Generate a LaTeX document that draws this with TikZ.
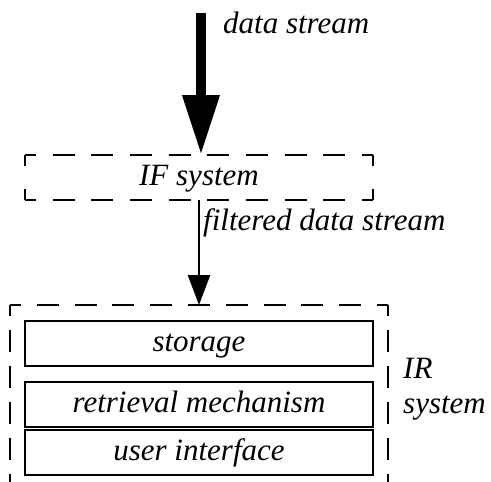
\documentclass[tikz,border=0pt]{standalone}
\usepackage{fontspec}
\setmainfont{Liberation Serif}
\usetikzlibrary{arrows.meta}
\begin{document}
\begin{tikzpicture}[x=1pt,y=-1pt,
  lbl/.style={font=\fontsize{31}{35}\selectfont\itshape, inner sep=0pt},
  frame/.style={lbl, outer sep=0pt, minimum width=348pt, minimum height=45pt, text height=21pt, text depth=6pt},
  boxed/.style={frame, draw, line width=1.8pt},
  dsh/.style={line width=2pt},
  thickarrow/.style={line width=10pt, -{Triangle[length=60pt,width=35pt]}},
  thinarrow/.style={line width=2.5pt, -{Triangle[length=30pt,width=22pt]}},
]
\useasboundingbox (0,0) rectangle (491,482);
\fill[white] (0,0) rectangle (491,482);

% IF system box (dashed)
\node[frame] (ifbox) at (199,177.5) {IF system};
\draw[dsh, dash pattern=on 22pt off 16.667pt, dash phase=11pt] (ifbox.north west) -- (ifbox.north east);
\draw[dsh, dash pattern=on 22pt off 16.667pt, dash phase=11pt] (ifbox.south west) -- (ifbox.south east);
\draw[dsh, dash pattern=on 22pt off 23pt, dash phase=11pt] (ifbox.north west) -- (ifbox.south west);
\draw[dsh, dash pattern=on 22pt off 23pt, dash phase=11pt] (ifbox.north east) -- (ifbox.south east);

% IR system frame (dashed, open at the bottom)
\coordinate (irtl) at (10,305);
\coordinate (irtr) at (388,305);
\coordinate (irbl) at (10,500);
\coordinate (irbr) at (388,500);
\draw[dsh, dash pattern=on 22pt off 15.8pt, dash phase=11pt] (irtl) -- (irtr);
\draw[dsh, dash pattern=on 22pt off 14pt, dash phase=11pt] (irtl) -- (irbl);
\draw[dsh, dash pattern=on 22pt off 14pt, dash phase=11pt] (irtr) -- (irbr);

% inner boxes
\node[boxed] (storage) at (199,343.5) {storage};
\node[boxed] (retrieval) at (199,404.5) {retrieval mechanism};
\node[boxed] (ui) at (199,452.5) {user interface};

% arrows
\coordinate (dsin) at (201,13);
\draw[thickarrow] (dsin) -- (dsin |- ifbox.north);
\draw[thinarrow] (ifbox.south) -- (ifbox.south |- irtl);

% labels
\node[lbl, anchor=base west] (dslbl) at (223,33) {data stream};
\node[lbl, anchor=base west] (fdslbl) at (203,230) {filtered data stream};
\node[lbl, anchor=base west, align=left] (irlbl) at (403,413) {IR\\system};
\end{tikzpicture}
\end{document}
